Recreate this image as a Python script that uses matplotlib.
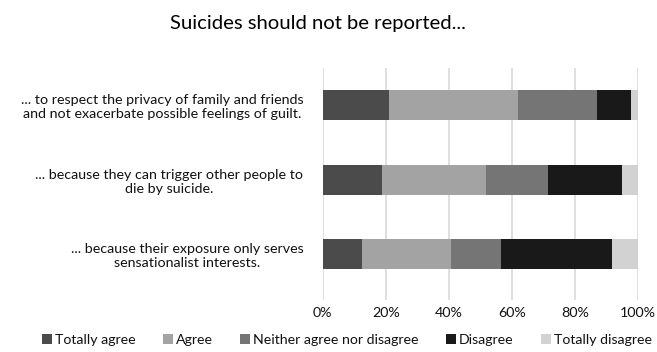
import matplotlib.pyplot as plt
import numpy as np

plt.rcParams['font.family'] = ['Lato', 'DejaVu Sans']

# Survey data (percent of respondents)
statements = [
    "... to respect the privacy of family and friends\nand not exacerbate possible feelings of guilt.",
    "... because they can trigger other people to\ndie by suicide.",
    "... because their exposure only serves\nsensationalist interests.",
]
categories = ["Totally agree", "Agree", "Neither agree nor disagree", "Disagree", "Totally disagree"]
totally_agree = [21.1, 18.8, 12.6]
agree = [40.9, 32.9, 28.1]
neither = [24.9, 19.6, 15.7]
disagree = [10.9, 23.4, 35.2]
totally_disagree = [2.2, 5.3, 8.4]
colors = ["#4b4b4b", "#a3a3a3", "#757575", "#191919", "#d2d2d2"]

series = [totally_agree, agree, neither, disagree, totally_disagree]

fig = plt.figure(figsize=(6.57, 3.52), dpi=100)
ax = fig.add_axes([322.7 / 657, 52 / 352, (638.3 - 322.7) / 657, (300 - 68) / 352])

y = np.arange(len(statements))
left = np.zeros(len(statements))
for vals, name, c in zip(series, categories, colors):
    ax.barh(y, vals, left=left, height=0.403, color=c, label=name, zorder=2)
    left += np.array(vals)

ax.set_xlim(0, 100)
ax.set_ylim(2.617, -0.497)
ax.set_xticks(np.arange(0, 101, 20))
ax.set_xticklabels([f"{t}%" for t in range(0, 101, 20)], fontsize=10.3, color="#111111")
ax.set_yticks(y)
ax.set_yticklabels(statements, fontsize=10.3, color="#111111", multialignment="center")
ax.tick_params(axis="both", length=0)
ax.tick_params(axis="x", pad=5)
ax.tick_params(axis="y", pad=14)
ax.xaxis.grid(True, color="#d9d9d9", lw=1.2, zorder=0)
ax.set_axisbelow(True)
for s in ax.spines.values():
    s.set_visible(False)

fig.text(318 / 657, 1 - 24 / 352, "Suicides should not be reported...", ha="center", va="center",
         fontsize=14.6, color="#000000")

fig.legend(loc="center left", bbox_to_anchor=(42 / 657, 1 - 340 / 352), ncol=5, frameon=False,
           fontsize=10.2, handlelength=0.7, handleheight=0.7, handletextpad=0.2,
           columnspacing=1.95, borderpad=0, borderaxespad=0, labelcolor="#111111")

fig.savefig("out.png", dpi=100)
